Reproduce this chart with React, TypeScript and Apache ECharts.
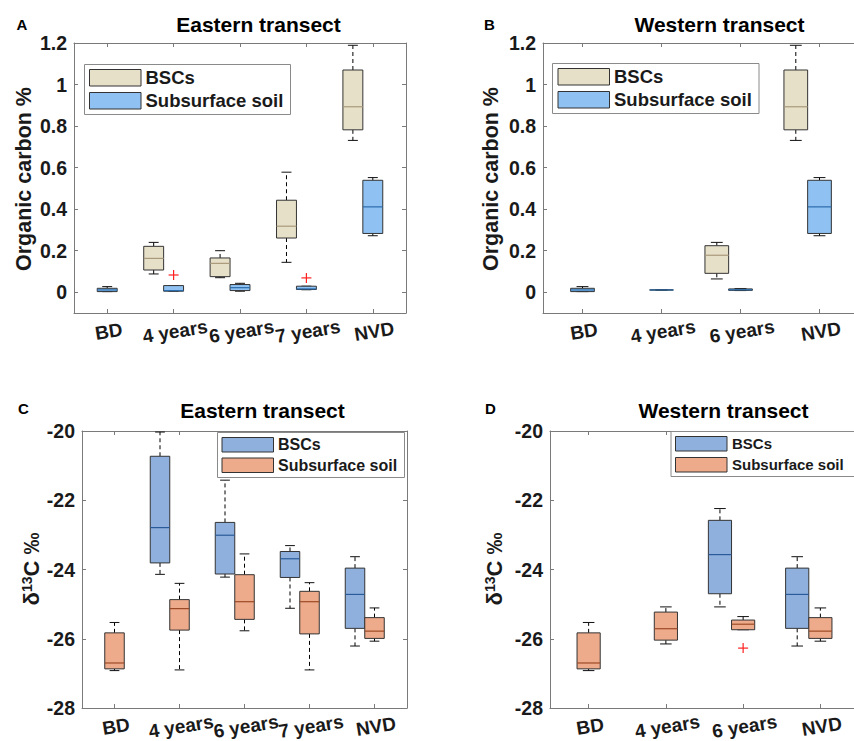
import React, { useEffect, useRef } from 'react';
import * as echarts from 'echarts';

// ---------- data ----------
const catsEast = ['BD', '4 years', '6 years', '7 years', 'NVD'];
const catsWest = ['BD', '4 years', '6 years', 'NVD'];

// each box: [min, q1, median, q3, max]; null = no box
const ocEastBSC = [null, [0.088, 0.107, 0.163, 0.221, 0.240], [0.070, 0.075, 0.139, 0.165, 0.200], [0.144, 0.261, 0.318, 0.443, 0.578], [0.731, 0.782, 0.893, 1.070, 1.189]];
const ocEastSub = [[0.003, 0.003, 0.011, 0.019, 0.027], [0.005, 0.005, 0.008, 0.032, 0.032], [0.005, 0.008, 0.022, 0.037, 0.043], [0.012, 0.013, 0.016, 0.029, 0.029], [0.272, 0.283, 0.411, 0.539, 0.552]];
const ocEastOutliers = [[1, 0.083], [3, 0.069]];

const ocWestBSC = [null, null, [0.064, 0.091, 0.178, 0.224, 0.240], [0.731, 0.782, 0.893, 1.070, 1.189]];
const ocWestSub = [[0.003, 0.003, 0.011, 0.019, 0.027], [0.011, 0.011, 0.011, 0.011, 0.011], [0.008, 0.009, 0.012, 0.016, 0.018], [0.272, 0.283, 0.411, 0.539, 0.552]];
const ocWestOutliers: number[][] = [];

const d13EastBSC = [null, [-24.14, -23.81, -22.79, -20.73, -20.03], [-24.22, -24.13, -23.01, -22.64, -21.42], [-25.12, -24.23, -23.69, -23.48, -23.31], [-26.21, -25.70, -24.72, -23.96, -23.63]];
const d13EastSub = [[-26.92, -26.87, -26.70, -25.83, -25.53], [-26.90, -25.75, -25.13, -24.87, -24.40], [-25.77, -25.44, -24.93, -24.15, -23.55], [-26.90, -25.86, -24.93, -24.63, -24.38], [-26.07, -25.99, -25.78, -25.39, -25.11]];
const d13EastOutliers: number[][] = [];

const d13WestBSC = [null, null, [-25.08, -24.70, -23.57, -22.58, -22.24], [-26.21, -25.70, -24.72, -23.96, -23.63]];
const d13WestSub = [[-26.92, -26.87, -26.70, -25.83, -25.53], [-26.15, -26.04, -25.71, -25.23, -25.08], [-25.74, -25.74, -25.58, -25.46, -25.36], [-26.07, -25.99, -25.78, -25.39, -25.11]];
const d13WestOutliers = [[2, -26.27]];

// ---------- styles ----------
const FONT = '"Liberation Sans", Arial, Helvetica, sans-serif';
const FRAME = '#7a7a7a';
const TEXT = '#1a1a1a';
const ocColors = { bsc: '#e7e0c9', bscMed: '#a8997a', sub: '#8fc2f2', subMed: '#2b6cab' };
const d13Colors = { bsc: '#8fb0dd', bscMed: '#2a5a98', sub: '#eeab8c', subMed: '#9c4a26' };

type Box = number[] | null;
const toItems = (arr: Box[]) =>
  arr.map((b, i) => (b ? [i, ...b] : null)).filter((x) => x !== null) as number[][];

const makeBoxRender = (offset: number, fill: string, med: string) => (params: any, api: any) => {
  const i = api.value(0);
  const band = api.size([1, 0])[0];
  const w = band * 0.3;
  const x = api.coord([i, api.value(1)])[0] + offset * band;
  const ys = [1, 2, 3, 4, 5].map((k) => api.coord([i, api.value(k)])[1]);
  const [yMin, yQ1, yMed, yQ3, yMax] = ys;
  const dash = { stroke: '#000', lineWidth: 1, lineDash: [4, 3] };
  const solid = { stroke: '#111', lineWidth: 1 };
  return {
    type: 'group',
    children: [
      { type: 'line', shape: { x1: x, y1: yQ3, x2: x, y2: yMax }, style: dash },
      { type: 'line', shape: { x1: x, y1: yQ1, x2: x, y2: yMin }, style: dash },
      { type: 'line', shape: { x1: x - w / 4, y1: yMax, x2: x + w / 4, y2: yMax }, style: solid },
      { type: 'line', shape: { x1: x - w / 4, y1: yMin, x2: x + w / 4, y2: yMin }, style: solid },
      { type: 'rect', shape: { x: x - w / 2, y: yQ3, width: w, height: Math.max(yQ1 - yQ3, 0) }, style: { fill, stroke: '#333', lineWidth: 1 } },
      { type: 'line', shape: { x1: x - w / 2, y1: yMed, x2: x + w / 2, y2: yMed }, style: { stroke: med, lineWidth: 1.2 } },
    ],
  };
};

const outlierRender = (params: any, api: any) => {
  const p = api.coord([api.value(0), api.value(1)]);
  const s = 5;
  const st = { stroke: '#ff2020', lineWidth: 1.2 };
  return {
    type: 'group',
    children: [
      { type: 'line', shape: { x1: p[0] - s, y1: p[1], x2: p[0] + s, y2: p[1] }, style: st },
      { type: 'line', shape: { x1: p[0], y1: p[1] - s, x2: p[0], y2: p[1] + s }, style: st },
    ],
  };
};

const panels = [
  { grid: { left: 74, top: 43, width: 332, height: 270 }, cats: catsEast, min: -0.1, max: 1.2, split: 6, colors: ocColors, bsc: ocEastBSC, sub: ocEastSub, out: ocEastOutliers },
  { grid: { left: 543, top: 43, width: 316, height: 270 }, cats: catsWest, min: -0.1, max: 1.2, split: 6, colors: ocColors, bsc: ocWestBSC, sub: ocWestSub, out: ocWestOutliers },
  { grid: { left: 82, top: 431, width: 325, height: 277 }, cats: catsEast, min: -28, max: -20, interval: 2, colors: d13Colors, bsc: d13EastBSC, sub: d13EastSub, out: d13EastOutliers },
  { grid: { left: 550, top: 431, width: 309, height: 277 }, cats: catsWest, min: -28, max: -20, interval: 2, colors: d13Colors, bsc: d13WestBSC, sub: d13WestSub, out: d13WestOutliers },
];

const txt = (x: number, y: number, text: string, size: number, extra: any = {}) => ({
  type: 'text',
  x,
  y,
  silent: true,
  style: { text, fontFamily: FONT, fontWeight: 'bold', fontSize: size, fill: TEXT, align: 'center', verticalAlign: 'middle', ...extra },
});

const legend = (fx: number, fy: number, fw: number, fh: number, sx: number, sy1: number, sy2: number, sw: number, sh: number, tx: number, size: number, c: any) => [
  { type: 'rect', shape: { x: fx, y: fy, width: fw, height: fh }, style: { fill: '#fff', stroke: '#8a8a8a', lineWidth: 1 }, z: 10 },
  { type: 'rect', shape: { x: sx, y: sy1, width: sw, height: sh }, style: { fill: c.bsc, stroke: '#333', lineWidth: 1 }, z: 11 },
  { type: 'rect', shape: { x: sx, y: sy2, width: sw, height: sh }, style: { fill: c.sub, stroke: '#333', lineWidth: 1 }, z: 11 },
  { ...txt(tx, sy1 + sh / 2, 'BSCs', size, { align: 'left' }), z: 11 },
  { ...txt(tx, sy2 + sh / 2, 'Subsurface soil', size, { align: 'left' }), z: 11 },
];

const buildOption = () => {
  const grid: any[] = [];
  const xAxis: any[] = [];
  const yAxis: any[] = [];
  const series: any[] = [];
  panels.forEach((p, k) => {
    grid.push({ ...p.grid, outerBoundsMode: 'none', containLabel: false });
    const line = { show: true, onZero: false, lineStyle: { color: FRAME, width: 1 } };
    const tick = { show: true, inside: true, length: 4, alignWithLabel: true, lineStyle: { color: FRAME } };
    xAxis.push({
      type: 'category', gridIndex: k, data: p.cats, position: 'bottom',
      axisLine: line, axisTick: tick, splitLine: { show: false },
      axisLabel: { fontFamily: FONT, fontWeight: 'bold', fontSize: 19, color: TEXT, rotate: 9, align: 'center', verticalAlign: 'top', margin: 9, interval: 0 },
    });
    xAxis.push({
      type: 'category', gridIndex: k, data: p.cats, position: 'top',
      axisLine: line, axisTick: tick, axisLabel: { show: false }, splitLine: { show: false },
    });
    const yBase: any = { type: 'value', gridIndex: k, min: p.min, max: p.max, splitLine: { show: false }, axisLine: line, axisTick: { show: true, inside: true, length: 4, lineStyle: { color: FRAME } } };
    if (p.interval) yBase.interval = p.interval; else yBase.splitNumber = p.split;
    yAxis.push({
      ...yBase, position: 'left',
      axisLabel: { fontFamily: FONT, fontWeight: 'bold', fontSize: 19.5, color: TEXT, margin: 7, showMinLabel: p.interval ? true : false },
    });
    yAxis.push({ ...yBase, position: 'right', axisLabel: { show: false } });
    const enc = { x: 0, y: [1, 2, 3, 4, 5] };
    series.push({ type: 'custom', xAxisIndex: 2 * k, yAxisIndex: 2 * k, data: toItems(p.bsc), encode: enc, renderItem: makeBoxRender(-0.3, p.colors.bsc, p.colors.bscMed), clip: false, silent: true });
    series.push({ type: 'custom', xAxisIndex: 2 * k, yAxisIndex: 2 * k, data: toItems(p.sub), encode: enc, renderItem: makeBoxRender(0, p.colors.sub, p.colors.subMed), clip: false, silent: true });
    if (p.out.length) {
      series.push({ type: 'custom', xAxisIndex: 2 * k, yAxisIndex: 2 * k, data: p.out, encode: { x: 0, y: 1 }, renderItem: outlierRender, clip: false, silent: true });
    }
  });

  const graphic: any[] = [
    txt(22, 24.5, 'A', 15, { fill: '#000' }),
    txt(489.5, 24.5, 'B', 15, { fill: '#000' }),
    txt(23.5, 408, 'C', 15, { fill: '#000' }),
    txt(490.5, 408, 'D', 15, { fill: '#000' }),
    txt(258.5, 24, 'Eastern transect', 21, { fill: '#000' }),
    txt(719.5, 24, 'Western transect', 21, { fill: '#000' }),
    txt(262.5, 410, 'Eastern transect', 21, { fill: '#000' }),
    txt(723.5, 410, 'Western transect', 21, { fill: '#000' }),
    { ...txt(24, 179, 'Organic carbon %', 21.5), rotation: Math.PI / 2 },
    { ...txt(491, 179, 'Organic carbon %', 21.5), rotation: Math.PI / 2 },
  ];
  const d13Name = (x: number, y: number) => ({
    type: 'text', x, y, rotation: Math.PI / 2, silent: true,
    style: {
      text: '{a|δ}{s|13}{a|C ‰}', align: 'center', verticalAlign: 'middle', fill: TEXT,
      rich: {
        a: { fontFamily: FONT, fontWeight: 'bold', fontSize: 22, fill: TEXT, verticalAlign: 'bottom' },
        s: { fontFamily: FONT, fontWeight: 'bold', fontSize: 14, fill: TEXT, verticalAlign: 'top' },
      },
    },
  });
  graphic.push(d13Name(31, 569), d13Name(494, 569));
  graphic.push(
    ...legend(84.5, 64.5, 206, 50, 89.5, 69.5, 92.5, 51.5, 16.5, 145.5, 18.5, ocColors),
    ...legend(552.5, 63.5, 206.5, 50, 558, 68.5, 91.5, 51.5, 16.5, 614, 18.5, ocColors),
    ...legend(217.5, 432.5, 187, 45, 222, 437.5, 458, 51.5, 14.5, 278, 16, d13Colors),
    ...legend(671, 431.5, 192, 45, 675.5, 436.5, 457.5, 51.5, 14.5, 732, 15, d13Colors),
  );

  return { animation: false, backgroundColor: '#fff', grid, xAxis, yAxis, series, graphic };
};

export default function App() {
  const ref = useRef<HTMLDivElement>(null);
  useEffect(() => {
    if (!ref.current) return;
    const chart = echarts.init(ref.current, undefined, { renderer: 'svg' });
    chart.setOption(buildOption() as any);
    return () => chart.dispose();
  }, []);
  return <div ref={ref} style={{ position: 'fixed', left: 0, top: 0, width: 854, height: 741, background: '#fff' }} />;
}
